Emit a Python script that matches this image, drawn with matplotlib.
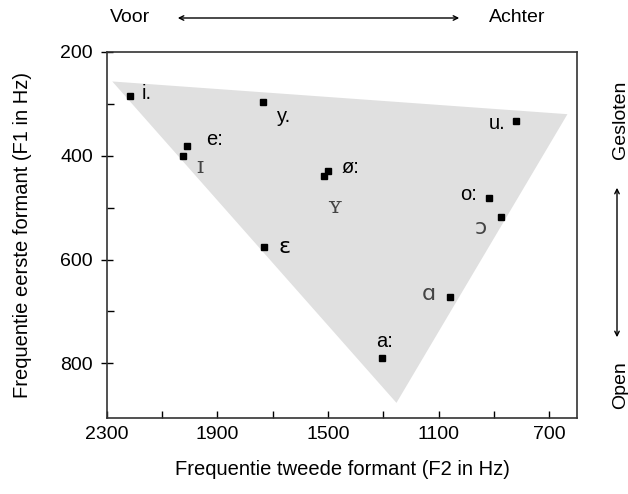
import numpy as np
import matplotlib.pyplot as plt

plt.rcParams['font.family'] = ['Liberation Sans', 'DejaVu Sans']

# vowel data: F2 (Hz), F1 (Hz)
vowels = ['i.', 'y.', 'e:', 'ɪ', 'ø:', 'ʏ', 'ɛ', 'u.', 'o:', 'ɔ', 'ɑ', 'a:']
f2 = [2215, 1735, 2010, 2025, 1500, 1515, 1730, 820, 920, 875, 1060, 1305]
f1 = [285, 297, 382, 400, 430, 440, 575, 333, 482, 518, 672, 790]

# label offsets in points (dx, dy) and alignment
offsets = [(8, 2, 'left'), (10, -10, 'left'), (14, 5, 'left'), (10, -8, 'left'),
           (10, 3, 'left'), (2, -22, 'left'), (10, 0, 'left'), (-8, -2, 'right'),
           (-8, 3, 'right'), (-10, -8, 'right'), (-10, 2, 'right'), (2, 12, 'center')]

# vowel triangle corners (F2, F1)
tri_f2 = [2280, 635, 1253]
tri_f1 = [257, 320, 876]

fig = plt.figure(figsize=(6.28, 4.94), dpi=100)
ax = fig.add_axes([0.170, 0.154, 0.749, 0.741])

ax.fill(tri_f2, tri_f1, color='#e0e0e0', zorder=1, lw=0)
ax.plot(f2, f1, 's', color='black', markersize=4.2, zorder=3)

for v, x, y, (dx, dy, ha) in zip(vowels, f2, f1, offsets):
    ipa = v in ('ɪ', 'ʏ', 'ɛ', 'ɔ', 'ɑ')
    col = '#444444' if v in ('ɪ', 'ʏ', 'ɔ', 'ɑ') else 'black'
    ax.annotate(v, (x, y), xytext=(dx, dy), textcoords='offset points',
                ha=ha, va='center', fontsize=16 if ipa else 14.5, color=col,
                family=['DejaVu Serif'] if v in ('ɪ', 'ʏ') else (['DejaVu Sans'] if ipa else None))

ax.set_xlim(2300, 600)
ax.set_ylim(905, 200)
ax.set_xticks([2300, 1900, 1500, 1100, 700])
ax.set_xticks([2100, 1700, 1300, 900], minor=True)
ax.set_yticks([200, 400, 600, 800])
ax.set_yticks([300, 500, 700], minor=True)
ax.tick_params(axis='both', which='both', direction='in', length=5, width=1,
               labelsize=14, pad=6)
ax.tick_params(axis='y', which='major', direction='inout', length=8)
for s in ax.spines.values():
    s.set_linewidth(1.2)
    s.set_color('#333333')

ax.set_xlabel('Frequentie tweede formant (F2 in Hz)', fontsize=14.5, labelpad=12)
ax.set_ylabel('Frequentie eerste formant (F1 in Hz)', fontsize=14.5, labelpad=20)

# front/back and close/open annotations
fig.text(110 / 628, 1 - 18 / 494, 'Voor', fontsize=14, ha='left', va='center')
fig.text(545 / 628, 1 - 18 / 494, 'Achter', fontsize=14, ha='right', va='center')
fig.add_artist(plt.matplotlib.patches.FancyArrowPatch(
    (175 / 628, 1 - 18 / 494), (462 / 628, 1 - 18 / 494), transform=fig.transFigure,
    arrowstyle='<->', mutation_scale=8, lw=1, color='black'))
fig.text(621 / 628, 1 - 120 / 494, 'Gesloten', fontsize=14, rotation=90,
         ha='center', va='center')
fig.text(621 / 628, 1 - 385 / 494, 'Open', fontsize=14, rotation=90,
         ha='center', va='center')
fig.add_artist(plt.matplotlib.patches.FancyArrowPatch(
    (617 / 628, 1 - 185 / 494), (617 / 628, 1 - 340 / 494), transform=fig.transFigure,
    arrowstyle='<->', mutation_scale=8, lw=1, color='black'))

fig.savefig('out.png', dpi=100)
